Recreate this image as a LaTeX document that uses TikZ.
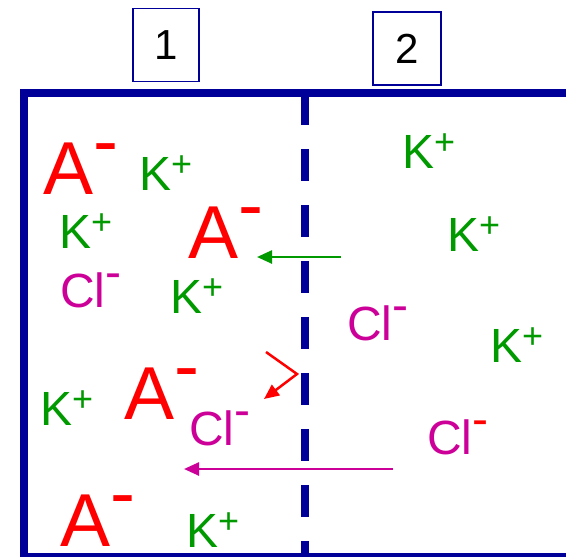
\documentclass[tikz,border=0pt]{standalone}
\usepackage{fontspec}
\setmainfont{Liberation Sans}
\usepackage{tikz}
\usetikzlibrary{arrows.meta}

\definecolor{navy}{RGB}{0,0,153}
\definecolor{kgreen}{RGB}{0,153,0}
\definecolor{clmagenta}{RGB}{204,0,153}
\definecolor{ared}{RGB}{255,0,0}

% ion labels with raised charges
\newcommand{\kplus}{K\raisebox{13.6pt}{\fontsize{36}{36}\selectfont +}}
\newcommand{\aminus}{A\raisebox{27.5pt}{-}}
\newcommand{\clminus}[1][clmagenta]{Cl\raisebox{18.5pt}{\color{#1}-}}

\begin{document}
\begin{tikzpicture}[
        x=1pt, y=-1pt,
        >={Triangle[length=15pt,width=13pt]},
        knode/.style={anchor=base west, inner sep=0pt, text=kgreen, font=\fontsize{48}{48}\selectfont},
        clnode/.style={anchor=base west, inner sep=0pt, text=clmagenta, font=\fontsize{48}{48}\selectfont},
        anode/.style={anchor=base west, inner sep=0pt, text=ared, font=\fontsize{75}{75}\selectfont},
        numbox/.style={draw=navy, line width=1.5pt, inner sep=0pt, minimum height=73pt, font=\fontsize{42}{42}\selectfont},
        membrane/.style={draw=navy, line width=8pt},
        flux/.style={->, line width=2.5pt}
    ]

        \useasboundingbox (0,0) rectangle (566,557);

        % Compartment labels
        \node [numbox, minimum width=66pt] (Box1) at (166,45) {1};
        \node [numbox, minimum width=68pt] (Box2) at (407,48.5) {2};

        % Vessel and membrane
        \draw [membrane, line join=miter] (572,93) -- (24,93) -- (24,557) -- (572,557);
        \draw [membrane, dash pattern=on 32pt off 24pt] (305,93) -- (305,557);

        % Side 1
        \node [anode] (A1) at (43,194) {\aminus};
        \node [knode] (K1) at (139,190) {\kplus};
        \node [knode] (K2) at (59,248) {\kplus};
        \node [anode] (A2) at (188,258) {\aminus};
        \node [clnode] (Cl1) at (60,307) {\clminus};
        \node [knode] (K3) at (170,313) {\kplus};
        \node [knode] (K4) at (40,425) {\kplus};
        \node [anode] (A3) at (124,419) {\aminus};
        \node [clnode] (Cl2) at (189,445) {\clminus};
        \node [anode] (A4) at (60,546) {\aminus};
        \node [knode] (K5) at (186,547) {\kplus};

        % Side 2
        \node [knode] (K6) at (402,168) {\kplus};
        \node [knode] (K7) at (447,251) {\kplus};
        \node [clnode] (Cl3) at (347,340) {\clminus};
        \node [knode] (K8) at (490,362) {\kplus};
        \node [clnode] (Cl4) at (427,454) {\clminus[ared]};

        % Fluxes
        \coordinate (KStart) at (341,257);
        \coordinate (KEnd) at (257,257);
        \coordinate (AStart) at (266,352);
        \coordinate (ABounce) at (297,374);
        \coordinate (AEnd) at (264,399);
        \coordinate (ClStart) at (393,469);
        \coordinate (ClEnd) at (184,469);

        \draw [flux, kgreen] (KStart) -- (KEnd);
        \draw [flux, ared, line join=miter] (AStart) -- (ABounce) -- (AEnd);
        \draw [flux, clmagenta] (ClStart) -- (ClEnd);

    \end{tikzpicture}
\end{document}
